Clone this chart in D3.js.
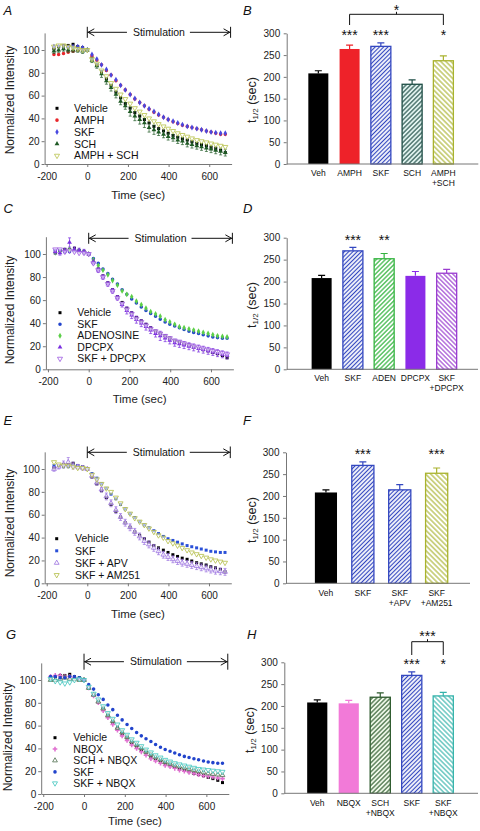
<!DOCTYPE html>
<html><head><meta charset="utf-8">
<script src="https://cdn.jsdelivr.net/npm/d3@7"></script>
<style>body{margin:0;background:#fff}svg{display:block;font-family:"Liberation Sans",Arial,sans-serif}</style>
</head><body><svg id="c" width="480" height="831"></svg>
<script>
// ---------- DATA ----------
const times = [-164,-141,-117,-94,-70,-47,-23,0,23,47,70,94,117,141,164,187,211,234,258,281,304,328,351,375,398,422,445,468,492,515,539,562,586,609,632,656,679];
const stimWindow = [0, 705];
const xTicks = [-200, 0, 200, 400, 600];
const yTicksLine = [0, 20, 40, 60, 80, 100];
const yTicksBar = [0, 50, 100, 150, 200, 250, 300];

const vehicle  = [101,103,104,104,105,103,102,100,93,87,81,75,69,63,58,53,49,45,42,39,36,33,31,29,27,25,23.5,22,21,19.5,18,17,16,14.5,13.5,12,10];
const skf      = [103,103,102,102,103,103,102,100,96,92,87,83,78,74,69,65,61,57.5,54,51,48.5,46,43.5,41,39,37.5,36,34.5,33,32,31,30,29,28,27.5,27,27];
const amph     = [96,96,97,98,99,100,100,100,95,91,87,82,78,73,69,65,61,57,54,51,48,45.5,43,41,39,37,35.5,34,33,32,31,30,29,28,27,26,26];
const sch      = [99,100,101,100,100,100,99,100,91,86,79,73,67,61,55,51,46,42,39,36,32,30,28,26,24,23,21,20,18,17,16,15,14,13,12,11,10];
const schErr   = [2,2,2,2,2,2,2,0,2,2,3,3,3,3,3,3,4,4,4,4,4,4,3,3,3,3,3,3,3,3,3,3,3,3,3,3,3];
const amphSch  = [103,104,104,103,102,101,100,100,92,88,82,77,71,66,61,57,53,49,46,43,40,37.5,35,33,31,29,27,25.5,24,22.5,21,20,19,18,17,16,15];
const adenosine= [101,102,103,104,104,103,102,100,95,90,86,82,77,73,68,65,63,59,56,53,50,48,46,43,41,39,37,36,35,34,33,32,31,30,29,28.5,28];
const dpcpx    = [102,101,103,110,104,103,102,100,93,86,80,74,68,62,56,51,47,43,40,37,34,31,29,27,25,23,22,21,20,19,18,17,16,15,14,13,12];
const dpcpxErr = [2,2,2,4,2,2,2,0,2,2,2,2,2,2,2,3,3,3,3,3,3,3,4,3,3,3,3,3,3,3,3,3,3,3,3,3,3];
const skfDpcpx = [104,104,102,103,102,101,101,100,92,86,80,74,68,62,57,52,48,44,41,38,35,33,31,29,27,25,24,22.5,21,20,19,18,17,16,15,14,13];
const skfApv   = [100,102,104,106,103,102,101,100,94,88,82,76,70,64,58,53,49,45,41,37,34,31,28,25,23,21,19.5,18,17,16,15,14,13,12,11,10.5,10];
const apvErr   = [2,2,3,4,3,2,2,0,2,2,2,3,3,3,3,3,3,3,3,3,3,3,3,3,3,3,3,3,3,3,3,3,3,3,3,3,3];
const skfAm251 = [106,104,103,103,102,101,101,100,95,91,87,83,80,75,70,65,61,57,54,51,48,45,42,40,37,35,33,31,29,27,25.5,24,22.5,21,20,19,18];
const nbqx     = [103,104,104,103,103,102,101,100,93,86,80,73,67,61,56,51,47,43,40,37,34,31,29,27,25,24,22.5,21,20,19,18,17,16,15.5,15,14,13.5];
const schNbqx  = [100,100,101,102,101,101,100,100,93,87,81,75,69,64,58,54,50,46,43,40,37,34.5,32,30,28,26.5,25,24,23,22,21,20,19,18,17.5,17,16.5];
const skfNbqx  = [101,99,98,97,98,100,101,100,94,88,83,77,71,66,61,56,52,48,45,42,39,36.5,34,32,30,28.5,27,26,25,24,23,22,21.5,21,20.5,20,19.5];

const barCatsB = ["Veh","AMPH","SKF","SCH","AMPH\n+SCH"];
const barValsB = [208,264,270,183,237];
const barErrB  = [6,9,8,10,11];
const starsB   = ["","***","***","","*"];
const barCatsD = ["Veh","SKF","ADEN","DPCPX","SKF\n+DPCPX"];
const barValsD = [208,270,252,213,219];
const barErrD  = [6,8,12,10,9];
const starsD   = ["","***","**","",""];
const barCatsF = ["Veh","SKF","SKF\n+APV","SKF\n+AM251"];
const barValsF = [208,270,214,252];
const barErrF  = [6,8,12,12];
const starsF   = ["","***","","***"];
const barCatsH = ["Veh","NBQX","SCH\n+NBQX","SKF","SKF\n+NBQX"];
const barValsH = [208,206,220,270,223];
const barErrH  = [6,7,10,8,8];
const starsH   = ["","","","***","*"];

// ---------- SETUP ----------
const svg = d3.select('#c');
const defs = svg.append('defs');
const FONT = '"Liberation Sans", Arial, sans-serif';
function hatch(id, color, bg, angle, period, lw) {
  const p = defs.append('pattern').attr('id', id).attr('patternUnits', 'userSpaceOnUse')
    .attr('width', period).attr('height', period).attr('patternTransform', `rotate(${angle})`);
  p.append('rect').attr('width', period).attr('height', period).attr('fill', bg);
  p.append('line').attr('x1', period / 2).attr('x2', period / 2).attr('y1', 0).attr('y2', period)
    .attr('stroke', color).attr('stroke-width', lw);
}
hatch('hBlue', '#3347c0', '#fff', 45, 3.0, 1.2);
hatch('hSch', '#1e4d45', '#e2f4f0', 45, 3.2, 1.1);
hatch('hOlive', '#a9b22e', '#fff', -45, 3.6, 1.1);
hatch('hGreen', '#35b440', '#fff', 45, 3.2, 1.2);
hatch('hViolet', '#9a3cd0', '#fff', -45, 3.2, 1.1);
hatch('hDkGreen', '#2d5a2d', '#f0f9ea', 45, 3.2, 1.1);
hatch('hTeal', '#35b3ab', '#fff', -45, 3.4, 1.1);

const symMap = {square: d3.symbolSquare, circle: d3.symbolCircle, diamond: d3.symbolDiamond,
  triangle: d3.symbolTriangle, invtri: d3.symbolTriangle, cross: d3.symbolCross};
const symSize = {square: 9, circle: 10, diamond: 10, triangle: 10, invtri: 11, cross: 12};
function drawSym(g, s, cx, cy) {
  const open = s.open;
  g.append('path').attr('d', d3.symbol().type(symMap[s.sym]).size(symSize[s.sym])())
    .attr('transform', `translate(${cx},${cy})` + (s.sym === 'invtri' ? ' rotate(180)' : ''))
    .attr('fill', open ? '#fff' : s.color).attr('fill-opacity', open ? 0.6 : 1)
    .attr('stroke', open ? s.color : 'none').attr('stroke-width', 0.8);
}
function styleAxis(a) {
  a.attr('font-family', FONT);
  a.selectAll('path,line').attr('stroke', '#777');
  a.selectAll('text').attr('fill', '#222').attr('font-size', 10);
}

// ---------- LINE PANELS ----------
const linePanels = [
  {letter: 'A', lx: 3.5, ly: 15, xl: 44.6, xr: 231.6, y0: 164, y100: 50, stimY: 32.3, stimH: 5.5,
   legX: 57, legTX: 74, legY0: 108.3, legStep: 11.85, ylabX: 10, ylabY: 100, xlabY: 198.5,
   series: [
     {name: 'Vehicle', data: vehicle, sym: 'square', color: '#000'},
     {name: 'AMPH', data: amph, sym: 'circle', color: '#e8262b'},
     {name: 'SKF', data: skf, sym: 'diamond', color: '#4848e0'},
     {name: 'SCH', data: sch, err: schErr, sym: 'triangle', color: '#1f5a25'},
     {name: 'AMPH + SCH', data: amphSch, sym: 'invtri', color: '#b7c24a', open: true}]},
  {letter: 'C', lx: 3.5, ly: 213, xl: 45.9, xr: 233.4, y0: 369.3, y100: 254, stimY: 238.3, stimH: 5.5,
   legX: 60, legTX: 77.3, legY0: 312.7, legStep: 11.5, ylabX: 10, ylabY: 310, xlabY: 402.5,
   series: [
     {name: 'Vehicle', data: vehicle, sym: 'square', color: '#000'},
     {name: 'SKF', data: skf, sym: 'circle', color: '#2244cc'},
     {name: 'ADENOSINE', data: adenosine, sym: 'diamond', color: '#5ccf48'},
     {name: 'DPCPX', data: dpcpx, err: dpcpxErr, sym: 'triangle', color: '#7a2ee0'},
     {name: 'SKF + DPCPX', data: skfDpcpx, sym: 'invtri', color: '#9a55e0', open: true}]},
  {letter: 'E', lx: 3.5, ly: 425, xl: 44.7, xr: 231.3, y0: 583.3, y100: 469, stimY: 452.3, stimH: 5.8,
   legX: 56.7, legTX: 75, legY0: 538.7, legStep: 12.1, ylabX: 10, ylabY: 523, xlabY: 617.5,
   series: [
     {name: 'Vehicle', data: vehicle, sym: 'square', color: '#000'},
     {name: 'SKF', data: skf, sym: 'square', color: '#2a50d8'},
     {name: 'SKF + APV', data: skfApv, err: apvErr, sym: 'triangle', color: '#9a70e0', open: true},
     {name: 'SKF + AM251', data: skfAm251, sym: 'invtri', color: '#b3bd45', open: true}]},
  {letter: 'G', lx: 6, ly: 639, xl: 41.2, xr: 228.8, y0: 794, y100: 680, stimY: 661.7, stimH: 8,
   legX: 55, legTX: 73.3, legY0: 737.7, legStep: 11.4, ylabX: 7.5, ylabY: 737, xlabY: 824.9,
   series: [
     {name: 'Vehicle', data: vehicle, sym: 'square', color: '#000'},
     {name: 'NBQX', data: nbqx, sym: 'cross', color: '#e070d0'},
     {name: 'SCH + NBQX', data: schNbqx, sym: 'triangle', color: '#4f6f4f', open: true},
     {name: 'SKF', data: skf, sym: 'circle', color: '#2244cc'},
     {name: 'SKF + NBQX', data: skfNbqx, sym: 'invtri', color: '#3cc4bc', open: true}]}
];

linePanels.forEach(p => {
  const g = svg.append('g');
  const x = d3.scaleLinear().domain([-210, 710]).range([p.xl, p.xr]);
  const k = (p.y0 - p.y100) / 100;
  const y = d3.scaleLinear().domain([0, 115]).range([p.y0, p.y0 - 115 * k]);
  const ya = g.append('g').attr('transform', `translate(${p.xl},0)`)
    .call(d3.axisLeft(y).tickValues(yTicksLine).tickFormat(d => String(d)).tickSize(3).tickSizeOuter(0).tickPadding(2));
  styleAxis(ya);
  const xa = g.append('g').attr('transform', `translate(0,${p.y0})`)
    .call(d3.axisBottom(x).tickValues(xTicks).tickFormat(d => String(d)).tickSize(3).tickSizeOuter(0).tickPadding(6));
  styleAxis(xa);
  g.append('text').attr('x', p.lx).attr('y', p.ly).attr('font-size', 13).attr('font-style', 'italic')
    .attr('fill', '#111').text(p.letter);
  g.append('text').attr('transform', `translate(${p.ylabX},${p.ylabY}) rotate(-90)`)
    .attr('text-anchor', 'middle').attr('dominant-baseline', 'central').attr('font-size', 12)
    .attr('fill', '#222').text('Normalized Intensity');
  g.append('text').attr('x', (x(-210) + x(710)) / 2).attr('y', p.xlabY).attr('text-anchor', 'middle')
    .attr('font-size', 11.5).attr('fill', '#222').text('Time (sec)');
  // stimulation
  const sx0 = x(stimWindow[0]), sx1 = x(stimWindow[1]), sy = p.stimY, h = p.stimH;
  const st = g.append('g').attr('stroke', '#111').attr('stroke-width', 1).attr('fill', 'none');
  st.append('line').attr('x1', sx0).attr('x2', sx0).attr('y1', sy - h).attr('y2', sy + h);
  st.append('line').attr('x1', sx1).attr('x2', sx1).attr('y1', sy - h).attr('y2', sy + h);
  const mid = (sx0 + sx1) / 2;
  const t = g.append('text').attr('x', mid).attr('y', sy + 3.7).attr('text-anchor', 'middle')
    .attr('font-size', 10.5).attr('fill', '#111').text('Stimulation');
  const tw = t.node().getComputedTextLength();
  st.append('line').attr('x1', sx0).attr('x2', mid - tw / 2 - 6).attr('y1', sy).attr('y2', sy);
  st.append('line').attr('x1', mid + tw / 2 + 5).attr('x2', sx1).attr('y1', sy).attr('y2', sy);
  st.append('polyline').attr('points', `${sx0 + 7},${sy - 3.5} ${sx0 + 0.8},${sy} ${sx0 + 7},${sy + 3.5}`);
  st.append('polyline').attr('points', `${sx1 - 7},${sy - 3.5} ${sx1 - 0.8},${sy} ${sx1 - 7},${sy + 3.5}`);
  // series
  p.series.forEach(s => {
    const sg = g.append('g');
    if (s.err) {
      s.data.forEach((v, i) => {
        const e = s.err[i]; if (!e) return;
        const cx = x(times[i]);
        sg.append('path').attr('d', `M${cx},${y(v - e)}V${y(v + e)}M${cx - 1.5},${y(v - e)}H${cx + 1.5}M${cx - 1.5},${y(v + e)}H${cx + 1.5}`)
          .attr('stroke', s.color).attr('stroke-width', 0.7).attr('fill', 'none');
      });
    }
    s.data.forEach((v, i) => drawSym(sg, s, x(times[i]), y(v)));
  });
  // legend
  p.series.forEach((s, i) => {
    const ly = p.legY0 + i * p.legStep;
    drawSym(g, s, p.legX, ly);
    g.append('text').attr('x', p.legTX).attr('y', ly + 3.7).attr('font-size', 10.5).attr('fill', '#111').text(s.name);
  });
});

// ---------- BAR PANELS ----------
const barPanels = [
  {letter: 'B', lx: 243, ly: 15, axisX: 286.7, b0: 302.7, b1: 459, pi: 0.36, y0: 164, y300: 33.3, xEnd: 478.3,
   ylabX: 251.7, ylabY: 100, lab1: 176.2, lab2: 186.2, cats: barCatsB, vals: barValsB, errs: barErrB, stars: starsB,
   styles: [{fill: '#000'}, {fill: '#ee2229'}, {pat: 'hBlue', stroke: '#3347c0'}, {pat: 'hSch', stroke: '#1e4d45'}, {pat: 'hOlive', stroke: '#a9b22e'}],
   bracket: {from: 1, to: 4, y: 14.3, leg: 25, text: '*', ty: 6.5}},
  {letter: 'D', lx: 243, ly: 213, axisX: 286.7, b0: 306, b1: 462.3, pi: 0.36, y0: 369.3, y300: 237.7, xEnd: 478,
   ylabX: 251.7, ylabY: 305, lab1: 381.2, lab2: 391.2, cats: barCatsD, vals: barValsD, errs: barErrD, stars: starsD,
   styles: [{fill: '#000'}, {pat: 'hBlue', stroke: '#3347c0'}, {pat: 'hGreen', stroke: '#35b440'}, {fill: '#8b2be8'}, {pat: 'hViolet', stroke: '#9a3cd0'}]},
  {letter: 'F', lx: 243, ly: 425, axisX: 286, b0: 307.5, b1: 455.1, pi: 0.4, y0: 583.3, y300: 452.3, xEnd: 470,
   ylabX: 251.7, ylabY: 520, lab1: 596.2, lab2: 605.6, cats: barCatsF, vals: barValsF, errs: barErrF, stars: starsF,
   styles: [{fill: '#000'}, {pat: 'hBlue', stroke: '#3347c0'}, {pat: 'hBlue', stroke: '#3347c0'}, {pat: 'hOlive', stroke: '#a9b22e'}]},
  {letter: 'H', lx: 247, ly: 639, axisX: 284.3, b0: 301.5, b1: 459, pi: 0.36, y0: 793.3, y300: 662.3, xEnd: 478,
   ylabX: 250, ylabY: 730, lab1: 806.2, lab2: 815.6, cats: barCatsH, vals: barValsH, errs: barErrH, stars: starsH,
   styles: [{fill: '#000'}, {fill: '#f27ad8'}, {pat: 'hDkGreen', stroke: '#2d5a2d'}, {pat: 'hBlue', stroke: '#3347c0'}, {pat: 'hTeal', stroke: '#35b3ab'}],
   bracket: {from: 3, to: 4, y: 641.7, leg: 655, text: '***', ty: 632.5}}
];

barPanels.forEach(p => {
  const g = svg.append('g');
  const x = d3.scaleBand().domain(p.cats).range([p.b0, p.b1]).paddingInner(p.pi).paddingOuter(p.pi / 2);
  const y = d3.scaleLinear().domain([0, 300]).range([p.y0, p.y300]);
  const bw = x.bandwidth();
  p.cats.forEach((c, i) => {
    const st = p.styles[i];
    const v = p.vals[i], e = p.errs[i];
    const col = st.fill || st.stroke;
    const cx = x(c) + bw / 2;
    g.append('path').attr('d', `M${cx},${y(v)}V${y(v + e)}M${cx - 3.5},${y(v + e)}H${cx + 3.5}`)
      .attr('stroke', col).attr('stroke-width', 1.2).attr('fill', 'none');
    const r = g.append('rect').attr('x', x(c)).attr('width', bw).attr('y', y(v)).attr('height', y(0) - y(v));
    if (st.pat) r.attr('fill', `url(#${st.pat})`).attr('stroke', st.stroke).attr('stroke-width', 1.3);
    else r.attr('fill', st.fill);
    if (p.stars[i]) {
      g.append('text').attr('x', cx).attr('y', y(300) - 1 + 8.1).attr('text-anchor', 'middle')
        .attr('font-size', 14).attr('fill', '#111').text(p.stars[i]);
    }
    const lines = c.split('\n');
    const tx = g.append('text').attr('text-anchor', 'middle').attr('font-size', 8.5).attr('fill', '#111');
    lines.forEach((ln, j) => tx.append('tspan').attr('x', cx).attr('y', j === 0 ? p.lab1 : p.lab2).text(ln));
  });
  const ya = g.append('g').attr('transform', `translate(${p.axisX},0)`)
    .call(d3.axisLeft(y).tickValues(yTicksBar).tickSize(3).tickSizeOuter(0).tickPadding(3.5));
  styleAxis(ya);
  g.append('line').attr('x1', p.axisX).attr('x2', p.xEnd).attr('y1', y(0)).attr('y2', y(0)).attr('stroke', '#777');
  g.append('text').attr('x', p.lx).attr('y', p.ly).attr('font-size', 13).attr('font-style', 'italic')
    .attr('fill', '#111').text(p.letter);
  const yl = g.append('text').attr('transform', `translate(${p.ylabX},${p.ylabY}) rotate(-90)`)
    .attr('text-anchor', 'middle').attr('dominant-baseline', 'central').attr('font-size', 12.5).attr('fill', '#222');
  yl.append('tspan').text('t');
  yl.append('tspan').attr('font-size', 8).attr('dy', 3).text('1/2');
  yl.append('tspan').attr('dy', -3).text(' (sec)');
  if (p.bracket) {
    const b = p.bracket;
    const xa = x(p.cats[b.from]) + bw / 2, xb = x(p.cats[b.to]) + bw / 2;
    g.append('path').attr('d', `M${xa},${b.leg}V${b.y}H${xb}V${b.leg}M${(xa + xb) / 2},${b.y}V${b.y - 2.5}`)
      .attr('stroke', '#111').attr('stroke-width', 1).attr('fill', 'none');
    g.append('text').attr('x', (xa + xb) / 2).attr('y', b.ty + 8.1).attr('text-anchor', 'middle')
      .attr('font-size', 14).attr('fill', '#111').text(b.text);
  }
});
</script></body></html>
